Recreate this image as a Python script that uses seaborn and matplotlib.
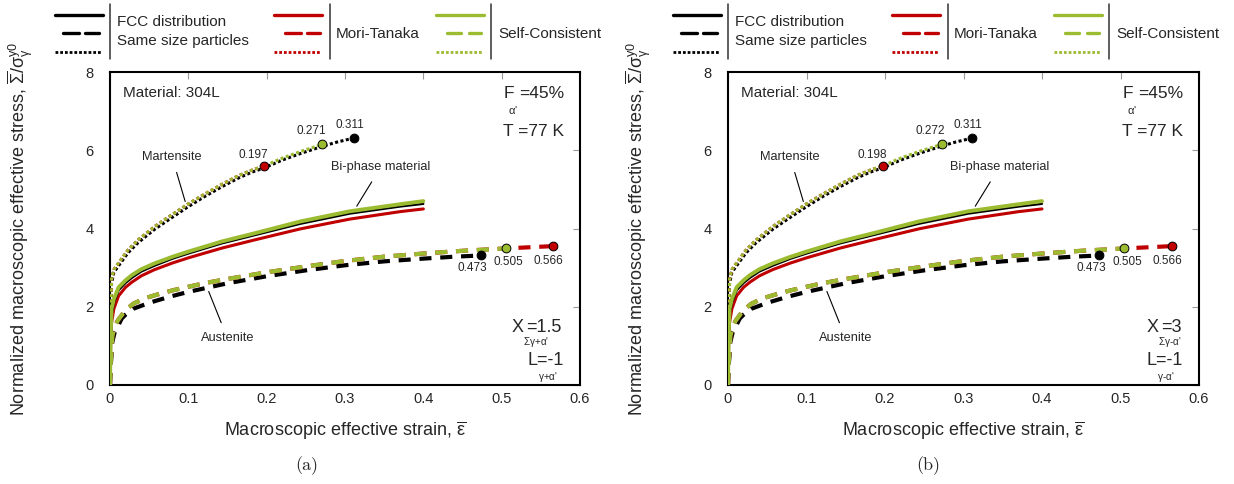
import matplotlib
matplotlib.use("Agg")
import matplotlib.pyplot as plt
from matplotlib.lines import Line2D
import seaborn as sns

sns.set_style("white")
plt.rcParams["font.family"] = ["Liberation Sans", "DejaVu Sans"]
plt.rcParams["mathtext.fontset"] = "custom"
plt.rcParams["mathtext.rm"] = "Liberation Sans"
plt.rcParams["mathtext.it"] = "Liberation Sans:italic"
plt.rcParams["mathtext.bf"] = "Liberation Sans:bold"
plt.rcParams["mathtext.sf"] = "Liberation Sans"

# ---------------------------------------------------------------- data
# Martensite phase (dotted), one series per homogenisation scheme
MART_X_FCC = [0, 0.0008, 0.002, 0.005, 0.011, 0.023, 0.036, 0.057, 0.079, 0.1,
              0.121, 0.143, 0.164, 0.181, 0.197, 0.22, 0.245, 0.271, 0.29]
MART_Y_FCC = [0, 1.5, 2.6, 2.88, 3.05, 3.38, 3.64, 3.98, 4.28, 4.56,
              4.82, 5.07, 5.29, 5.44, 5.55, 5.75, 5.93, 6.10, 6.21]
MART_X_MT = [0, 0.0008, 0.002, 0.005, 0.011, 0.023, 0.036, 0.057, 0.079, 0.1,
             0.121, 0.143, 0.164, 0.181]
MART_Y_MT = [0, 1.6, 2.7, 2.95, 3.12, 3.45, 3.71, 4.05, 4.35, 4.63,
             4.88, 5.13, 5.35, 5.49]
MART_X_SC = [0, 0.0008, 0.002, 0.005, 0.011, 0.023, 0.036, 0.057, 0.079, 0.1,
             0.121, 0.143, 0.164, 0.181, 0.197, 0.22, 0.245]
MART_Y_SC = [0, 1.6, 2.7, 2.95, 3.12, 3.45, 3.71, 4.05, 4.35, 4.63,
             4.88, 5.13, 5.35, 5.49, 5.60, 5.80, 5.98]
# failure strain of each martensite curve: FCC, Mori-Tanaka, Self-Consistent
MART_END_X_A = [0.311, 0.197, 0.271]
MART_END_X_B = [0.311, 0.198, 0.272]
MART_END_Y = [6.31, 5.60, 6.15]

# Bi-phase material (solid)
BI_X = [0, 0.0008, 0.002, 0.005, 0.011, 0.02, 0.028, 0.04, 0.057, 0.08, 0.1,
        0.143, 0.185, 0.243, 0.306, 0.37, 0.4]
BI_Y_FCC = [0, 1.1, 1.8, 2.1, 2.42, 2.61, 2.74, 2.9, 3.05, 3.23, 3.36,
            3.62, 3.83, 4.12, 4.38, 4.56, 4.63]
BI_Y_MT = [0, 1.0, 1.6, 1.95, 2.28, 2.5, 2.63, 2.79, 2.95, 3.12, 3.25,
           3.5, 3.71, 3.99, 4.24, 4.43, 4.50]
BI_Y_SC = [0, 1.2, 1.95, 2.2, 2.5, 2.68, 2.81, 2.96, 3.11, 3.28, 3.41,
           3.67, 3.88, 4.18, 4.44, 4.62, 4.70]

# Austenite phase (dashed)
AUST_X_FCC = [0, 0.001, 0.003, 0.006, 0.01, 0.015, 0.02, 0.03, 0.05, 0.075,
              0.1, 0.15, 0.2, 0.25, 0.3, 0.35, 0.4, 0.44]
AUST_Y_FCC = [0, 0.5, 1.1, 1.35, 1.5, 1.7, 1.8, 1.95, 2.1, 2.25,
              2.38, 2.6, 2.78, 2.93, 3.06, 3.16, 3.23, 3.28]
AUST_X_SC = [0, 0.001, 0.003, 0.006, 0.01, 0.02, 0.03, 0.045, 0.06, 0.08,
             0.1, 0.12, 0.15, 0.2, 0.25, 0.3, 0.35, 0.4, 0.45]
AUST_Y_SC = [0, 0.6, 1.25, 1.5, 1.65, 1.92, 2.08, 2.22, 2.31, 2.42,
             2.51, 2.6, 2.71, 2.88, 3.03, 3.17, 3.28, 3.36, 3.43]
AUST_X_MT = AUST_X_SC + [0.505, 0.535]
AUST_Y_MT = AUST_Y_SC + [3.49, 3.52]
# failure strain of each austenite curve: FCC, Mori-Tanaka, Self-Consistent
AUST_END_X = [0.473, 0.566, 0.505]
AUST_END_Y = [3.31, 3.55, 3.49]

X_TICKS = [0, 0.1, 0.2, 0.3, 0.4, 0.5, 0.6]
X_TICK_LABELS = ["0", "0.1", "0.2", "0.3", "0.4", "0.5", "0.6"]
Y_TICKS = [0, 2, 4, 6, 8]
Y_TICK_LABELS = ["0", "2", "4", "6", "8"]

PANELS = ["(a)", "(b)"]
X_RATIO = ["1.5", "3"]
SUB_SIGN = ["+", "-"]

# ---------------------------------------------------------------- style
BLACK = "#000000"
RED = "#c00000"
GREEN = "#9bbb30"
COLORS = [BLACK, RED, GREEN]
DOT = (0, (1.0, 0.8))
DASH = (0, (2.9, 2.1))

W, H = 1234, 484
fig = plt.figure(figsize=(W / 100, H / 100), dpi=100)


def fx(p):
    return p / W


def fy(p):
    return 1 - p / H


def curve(ax, xs, ys, color, lw, ls, z):
    sns.lineplot(x=xs, y=ys, ax=ax, color=color, lw=lw, linestyle=ls,
                 sort=False, estimator=None, zorder=z)


def draw_legend(left):
    rows = {"solid": 15, "dash": 33, "dot": 52}
    groups = [
        (BLACK, (-55, -7), [(-47, -31), (-25, -11)], 0),
        (RED, (164, 212), [(175, 190.5), (196.5, 209.5)], 219.5),
        (GREEN, (326, 374), [(337, 351), (358.5, 370.5)], 381),
    ]
    for color, (s0, s1), dashes, bar in groups:
        fig.add_artist(Line2D([fx(left + s0), fx(left + s1)],
                              [fy(rows["solid"])] * 2, color=color, lw=2.4,
                              transform=fig.transFigure))
        for d0, d1 in dashes:
            fig.add_artist(Line2D([fx(left + d0), fx(left + d1)],
                                  [fy(rows["dash"])] * 2, color=color, lw=2.4,
                                  transform=fig.transFigure))
        fig.add_artist(Line2D([fx(left + s0), fx(left + s1 - 1)],
                              [fy(rows["dot"])] * 2, color=color, lw=2.0,
                              linestyle=(0, (1.0, 0.7)),
                              transform=fig.transFigure))
        fig.add_artist(Line2D([fx(left + bar)] * 2, [fy(4), fy(59)],
                              color="#333333", lw=1.1,
                              transform=fig.transFigure))
    fig.text(fx(left + 7), fy(22), "FCC distribution", fontsize=11,
             va="center", ha="left")
    fig.text(fx(left + 7), fy(41), "Same size particles", fontsize=11,
             va="center", ha="left")
    fig.text(fx(left + 226), fy(34), "Mori-Tanaka", fontsize=11,
             va="center", ha="left")
    fig.text(fx(left + 388), fy(34), "Self-Consistent", fontsize=11,
             va="center", ha="left")


AX_LEFT = [110, 728]
AX_WIDTH = [470, 471]
CAPTION_X = [307, 928]

for i in range(2):
    left = AX_LEFT[i]
    ax = fig.add_axes([fx(left), fy(385), AX_WIDTH[i] / W, 313 / H])
    mart_end_x = MART_END_X_A if i == 0 else MART_END_X_B

    # austenite
    curve(ax, AUST_X_FCC + [AUST_END_X[0]], AUST_Y_FCC + [AUST_END_Y[0]],
          BLACK, 3.0, DASH, 2)
    curve(ax, AUST_X_MT + [AUST_END_X[1]], AUST_Y_MT + [AUST_END_Y[1]],
          RED, 3.0, DASH, 3)
    curve(ax, AUST_X_SC + [AUST_END_X[2]], AUST_Y_SC + [AUST_END_Y[2]],
          GREEN, 3.0, DASH, 4)

    # bi-phase material
    curve(ax, BI_X, BI_Y_MT, RED, 2.2, "-", 2)
    curve(ax, BI_X, BI_Y_FCC, BLACK, 1.6, "-", 3)
    curve(ax, BI_X, BI_Y_SC, GREEN, 2.8, "-", 4)

    # martensite
    curve(ax, MART_X_FCC + [mart_end_x[0]], MART_Y_FCC + [MART_END_Y[0]],
          BLACK, 2.2, DOT, 2)
    curve(ax, MART_X_MT + [mart_end_x[1]], MART_Y_MT + [MART_END_Y[1]],
          RED, 2.2, DOT, 3)
    curve(ax, MART_X_SC + [mart_end_x[2]], MART_Y_SC + [MART_END_Y[2]],
          GREEN, 2.2, DOT, 4)

    # failure points and their strain labels
    mart_offsets = [(-4, 13), (-11, 11), (-11, 13)]
    aust_offsets = [(-8, -13), (-5, -15), (3, -14)]
    for k in range(3):
        sns.scatterplot(x=[mart_end_x[k]], y=[MART_END_Y[k]], ax=ax,
                        color=COLORS[k], s=40, edgecolor="black",
                        linewidth=0.7, zorder=6)
        ax.annotate(f"{mart_end_x[k]:.3f}", (mart_end_x[k], MART_END_Y[k]),
                    xytext=mart_offsets[k], textcoords="offset pixels",
                    ha="center", va="center", fontsize=8.5, zorder=7)
        sns.scatterplot(x=[AUST_END_X[k]], y=[AUST_END_Y[k]], ax=ax,
                        color=COLORS[k], s=40, edgecolor="black",
                        linewidth=0.7, zorder=6)
        ax.annotate(f"{AUST_END_X[k]:.3f}", (AUST_END_X[k], AUST_END_Y[k]),
                    xytext=aust_offsets[k], textcoords="offset pixels",
                    ha="center", va="center", fontsize=8.5, zorder=7)

    # phase callouts
    ax.annotate("Martensite", xy=(0.096, 4.69), xytext=(0.079, 5.84),
                ha="center", va="center", fontsize=9.2,
                arrowprops=dict(arrowstyle="-", color="black", lw=0.8,
                                shrinkA=5, shrinkB=0))
    ax.annotate("Bi-phase material", xy=(0.315, 4.57), xytext=(0.346, 5.58),
                ha="center", va="center", fontsize=9.2,
                arrowprops=dict(arrowstyle="-", color="black", lw=0.8,
                                shrinkA=5, shrinkB=0))
    ax.annotate("Austenite", xy=(0.126, 2.39), xytext=(0.15, 1.19),
                ha="center", va="center", fontsize=9.2,
                arrowprops=dict(arrowstyle="-", color="black", lw=0.8,
                                shrinkA=5, shrinkB=0))

    # material / loading information
    tr = ax.transAxes
    ax.text(0.028, 0.933, "Material: 304L", transform=tr, fontsize=11,
            ha="left", va="center")
    ax.text(0.838, 0.93, "F", transform=tr, fontsize=12.5, ha="left",
            va="center")
    ax.text(0.966, 0.93, "=45%", transform=tr, fontsize=12.5, ha="right",
            va="center")
    ax.text(0.857, 0.878, "$\\mathrm{\\alpha}$'", transform=tr, fontsize=8,
            ha="center", va="center")
    ax.text(0.966, 0.809, "T =77 K", transform=tr, fontsize=12.5,
            ha="right", va="center")
    xl = 0.855 if i == 0 else 0.889
    ax.text(xl, 0.185, "X", transform=tr, fontsize=13, ha="left",
            va="center")
    ax.text(xl + 0.031, 0.185, "=" + X_RATIO[i], transform=tr, fontsize=13,
            ha="left", va="center")
    ax.text(xl + 0.024, 0.136,
            "$\\mathrm{\\Sigma}$$\\mathrm{\\gamma}$" + SUB_SIGN[i]
            + "$\\mathrm{\\alpha}$'",
            transform=tr, fontsize=7.2, ha="left", va="center")
    ax.text(0.966, 0.078, "L=-1", transform=tr, fontsize=13, ha="right",
            va="center")
    ax.text(0.91, 0.027, "$\\mathrm{\\gamma}$" + SUB_SIGN[i]
            + "$\\mathrm{\\alpha}$'",
            transform=tr, fontsize=7.2, ha="left", va="center")

    # axes
    ax.set_xlim(0, 0.6)
    ax.set_ylim(0, 8)
    ax.set_xticks(X_TICKS)
    ax.set_xticklabels(X_TICK_LABELS)
    ax.set_yticks(Y_TICKS)
    ax.set_yticklabels(Y_TICK_LABELS)
    ax.tick_params(axis="both", direction="in", length=5, width=0.8,
                   color="#999999", labelsize=10.5, top=True, right=True)
    ax.tick_params(axis="x", pad=5)
    ax.tick_params(axis="y", pad=12)
    for sp in ax.spines.values():
        sp.set_color("black")
        sp.set_linewidth(1.5)
        sp.set_visible(True)
    ax.set_xlabel("Macroscopic effective strain, "
                  "$\\overline{\\mathrm{\\varepsilon}}$",
                  fontsize=13, labelpad=10)
    ax.set_ylabel("Normalized macroscopic effective stress, "
                  "$\\overline{\\mathrm{\\Sigma}}/\\mathrm{\\sigma}"
                  "_{\\mathrm{\\gamma}}^{\\mathrm{y0}}$", fontsize=13)
    ax.yaxis.set_label_coords(-0.16, 0.5)

    draw_legend(left)
    fig.text(fx(CAPTION_X[i]), fy(466), PANELS[i], family="cmr10",
             fontsize=13, ha="center", va="center")

fig.savefig("out.png", dpi=100)
